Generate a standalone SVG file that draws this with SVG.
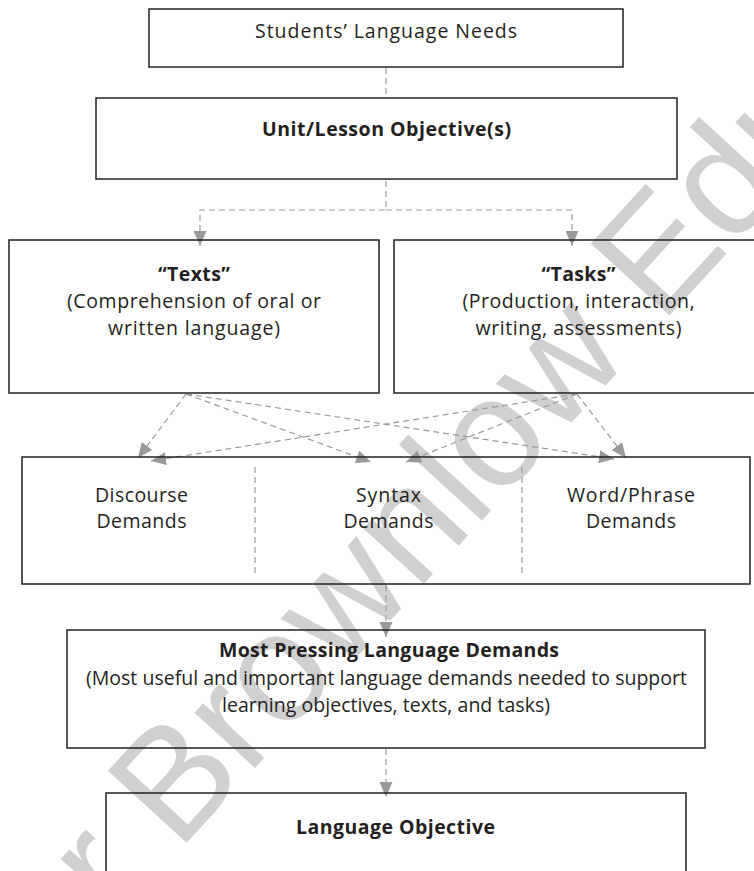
<svg xmlns="http://www.w3.org/2000/svg" width="754" height="871" viewBox="0 0 754 871">
<style>
.bg{fill:#ffffff}
.box{fill:none;stroke:#231f20;stroke-width:1.5}
.t{font-family:"Open Sans","Liberation Sans",sans-serif;font-size:19.5px;fill:#231f20;text-anchor:middle}
.b{font-weight:700}
.c{fill:none;stroke:#9a9a9d;stroke-width:1.2;stroke-dasharray:6 4}
.wm{font-family:"Liberation Sans",Arial,sans-serif;font-size:155px;fill:#d0d0d0}
</style>
<defs>
<marker id="ah" markerUnits="userSpaceOnUse" markerWidth="16" markerHeight="13" viewBox="0 0 16 13" refX="15" refY="6.5" orient="auto">
<path d="M0,0 L15,6.5 L0,13 Z" fill="#9a9a9d"/>
</marker>
</defs>
<rect class="bg" x="0" y="0" width="754" height="871"/>
<text class="wm" transform="translate(114,922) rotate(-47.5)">r Brownlow Educ</text>

<g id="connectors">
<path class="c" d="M386,68 V97"/>
<path class="c" d="M386,181 V210 H200 V246" marker-end="url(#ah)"/>
<path class="c" d="M386,210 H572 V246" marker-end="url(#ah)"/>
<path class="c" d="M186,394 L138,458" marker-end="url(#ah)"/>
<path class="c" d="M186,394 L371,462" marker-end="url(#ah)"/>
<path class="c" d="M186,394 L614,459" marker-end="url(#ah)"/>
<path class="c" d="M577,394 L151,461" marker-end="url(#ah)"/>
<path class="c" d="M577,394 L406,462" marker-end="url(#ah)"/>
<path class="c" d="M577,394 L626,458" marker-end="url(#ah)"/>
<path class="c" d="M386,585 V637" marker-end="url(#ah)"/>
<path class="c" d="M386,749 V797" marker-end="url(#ah)"/>
</g>

<g id="needs">
<rect class="box" x="149" y="9" width="474" height="58"/>
<text class="t" x="386" y="38" textLength="262">Students’ Language Needs</text>
</g>
<g id="unit-objectives">
<rect class="box" x="96" y="98" width="581" height="81"/>
<text class="t b" x="386.5" y="136" textLength="249">Unit/Lesson Objective(s)</text>
</g>
<g id="texts">
<rect class="box" x="9" y="240" width="370" height="153"/>
<text class="t b" x="194" y="281" textLength="72">“Texts”</text>
<text class="t" x="194" y="307.8" textLength="254">(Comprehension of oral or</text>
<text class="t" x="194" y="334.6" textLength="172">written language)</text>
</g>
<g id="tasks">
<rect class="box" x="394" y="240" width="370" height="153"/>
<text class="t b" x="578.5" y="281" textLength="74">“Tasks”</text>
<text class="t" x="578.5" y="307.8" textLength="232">(Production, interaction,</text>
<text class="t" x="578.5" y="334.6" textLength="206">writing, assessments)</text>
</g>
<g id="demands">
<rect class="box" x="22" y="457" width="728" height="127"/>
<path class="c" d="M255,467 V573 M522,467 V573"/>
<text class="t" x="141.5" y="501.5" textLength="93">Discourse</text>
<text class="t" x="141.5" y="528.3" textLength="90">Demands</text>
<text class="t" x="388.5" y="501.5" textLength="65">Syntax</text>
<text class="t" x="388.5" y="528.3" textLength="90">Demands</text>
<text class="t" x="631" y="501.5" textLength="128">Word/Phrase</text>
<text class="t" x="631" y="528.3" textLength="90">Demands</text>
</g>
<g id="pressing">
<rect class="box" x="67" y="630" width="638" height="118"/>
<text class="t b" x="389" y="657" textLength="340">Most Pressing Language Demands</text>
<text class="t" x="386.5" y="684.5" textLength="601">(Most useful and important language demands needed to support</text>
<text class="t" x="386" y="712" textLength="328">learning objectives, texts, and tasks)</text>
</g>
<g id="language-objective">
<rect class="box" x="106" y="793" width="580" height="100"/>
<text class="t b" x="395.5" y="834" textLength="199">Language Objective</text>
</g>
</svg>
